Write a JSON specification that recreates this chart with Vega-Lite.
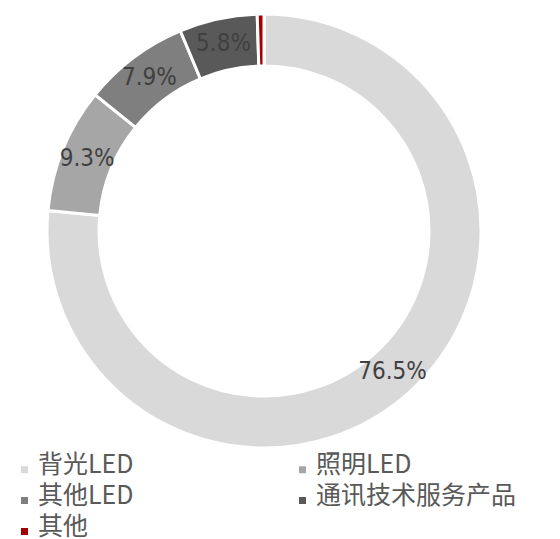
{
  "$schema": "https://vega.github.io/schema/vega-lite/v6.json",
  "width": 528,
  "height": 462,
  "padding": {"left": 0, "top": 0, "right": 32, "bottom": 77},
  "autosize": {"type": "none"},
  "background": "white",
  "data": {
    "values": [
      {"cat": "背光LED", "value": 76.5, "label": "76.5%", "idx": 1},
      {"cat": "照明LED", "value": 9.3, "label": "9.3%", "idx": 2},
      {"cat": "其他LED", "value": 7.9, "label": "7.9%", "idx": 3},
      {"cat": "通讯技术服务产品", "value": 5.8, "label": "5.8%", "idx": 4},
      {"cat": "其他", "value": 0.5, "label": "", "idx": 5}
    ]
  },
  "encoding": {
    "theta": {"field": "value", "type": "quantitative", "stack": true},
    "order": {"field": "idx", "type": "quantitative"}
  },
  "layer": [
    {
      "mark": {"type": "arc", "outerRadius": 217, "innerRadius": 165, "stroke": "white", "strokeWidth": 3},
      "encoding": {
        "color": {
          "field": "cat",
          "type": "nominal",
          "sort": ["背光LED", "照明LED", "其他LED", "通讯技术服务产品", "其他"],
          "scale": {
            "domain": ["背光LED", "照明LED", "其他LED", "通讯技术服务产品", "其他"],
            "range": ["#d9d9d9", "#a6a6a6", "#7f7f7f", "#595959", "#a50000"]
          },
          "legend": {
            "title": null,
            "orient": "none",
            "direction": "horizontal",
            "legendX": 12,
            "legendY": 452,
            "columns": 2,
            "columnPadding": 156,
            "rowPadding": 5,
            "symbolType": "M-0.5,0.214H0.5V1.214H-0.5Z",
            "symbolSize": 196,
            "symbolStrokeWidth": 0,
            "symbolOffset": 0,
            "labelOffset": 1,
            "labelFont": "Noto Sans CJK SC",
            "labelFontSize": 25,
            "labelColor": "#595959",
            "labelLimit": 400
          }
        }
      }
    },
    {
      "mark": {"type": "text", "radius": 191, "font": "'Liberation Sans Narrow', 'DejaVu Sans Condensed', 'Liberation Sans', sans-serif", "fontSize": 24, "color": "#404040"},
      "encoding": {
        "text": {"field": "label", "type": "nominal"}
      }
    }
  ]
}
